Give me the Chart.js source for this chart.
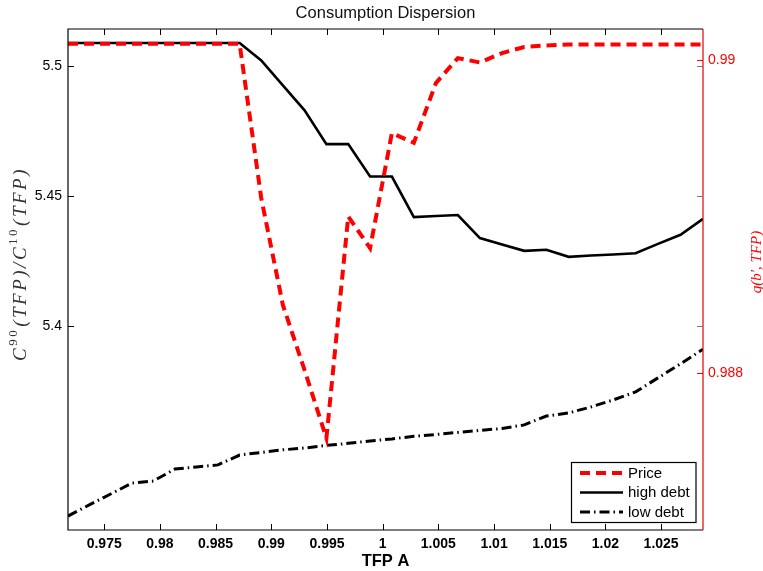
<!DOCTYPE html>
<html>
<head>
<meta charset="utf-8">
<title>Consumption Dispersion</title>
<script src="https://cdn.jsdelivr.net/npm/chart.js@4"></script>
<style>
  html, body { margin: 0; padding: 0; background: #fff; }
  #wrap { width: 763px; height: 571px; }
</style>
</head>
<body>
<div id="wrap"><canvas id="dispChart" width="763" height="571"></canvas></div>
<script>
// TFP grid (x) and the three series
const tfp = [0.97175, 0.97366, 0.97558, 0.97750, 0.97942, 0.98135, 0.98328, 0.98522, 0.98716, 0.98910,
             0.99104, 0.99299, 0.99495, 0.99691, 0.99887, 1.00083, 1.00280, 1.00478, 1.00675, 1.00873,
             1.01072, 1.01271, 1.01470, 1.01670, 1.01870, 1.02070, 1.02271, 1.02472, 1.02674, 1.02876];

const price = [0.990106, 0.990106, 0.990106, 0.990106, 0.990106, 0.990106, 0.990106, 0.990106, 0.990106,
               0.989119, 0.988436, 0.988018, 0.987583, 0.989002, 0.988799, 0.989535, 0.989473, 0.989855,
               0.990015, 0.989987, 0.990047, 0.990086, 0.990096, 0.990102, 0.990102, 0.990102, 0.990102,
               0.990102, 0.990102, 0.990102];

const highDebt = [5.5090, 5.5090, 5.5090, 5.5090, 5.5090, 5.5090, 5.5090, 5.5090, 5.5090,
                  5.5023, 5.4927, 5.4831, 5.4701, 5.4701, 5.4576, 5.4576, 5.4420, 5.4424, 5.4428,
                  5.4339, 5.4314, 5.4290, 5.4294, 5.4267, 5.4272, 5.4276, 5.4281, 5.4317, 5.4352, 5.4413];

const lowDebt = [5.3269, 5.3312, 5.3354, 5.3396, 5.3404, 5.3450, 5.3458, 5.3466, 5.3504, 5.3514,
                 5.3524, 5.3531, 5.3541, 5.3549, 5.3558, 5.3566, 5.3576, 5.3583, 5.3591, 5.3599,
                 5.3606, 5.3620, 5.3654, 5.3666, 5.3689, 5.3716, 5.3747, 5.3801, 5.3855, 5.3911];

const xTicks = [0.975, 0.98, 0.985, 0.99, 0.995, 1, 1.005, 1.01, 1.015, 1.02, 1.025];
const leftTicks = [5.4, 5.45, 5.5];
const rightTicks = [0.988, 0.99];

const FONT = '"Liberation Sans", Arial, Helvetica, sans-serif';
const SERIF = '"Liberation Serif", "Times New Roman", serif';

function pts(ys) {
    return tfp.map((x, i) => ({ x: x, y: ys[i] }));
}

function fmt(v) {
    return String(parseFloat(Number(v).toFixed(4)));
}

// draws title, box, inward ticks, axis titles and the legend (MATLAB look)
const matlabFrame = {
    id: 'matlabFrame',
    afterDraw(chart) {
        const ctx = chart.ctx;
        const ca = chart.chartArea;
        const sx = chart.scales.x, sl = chart.scales.yL, sr = chart.scales.yR;
        const tl = 6;

        ctx.save();
        // title
        ctx.fillStyle = '#111';
        ctx.font = '16.5px ' + FONT;
        ctx.textAlign = 'center';
        ctx.textBaseline = 'middle';
        ctx.fillText('Consumption Dispersion', (ca.left + ca.right) / 2, 13);

        // x title
        ctx.font = 'bold 16.5px ' + FONT;
        ctx.fillStyle = '#000';
        ctx.fillText('TFP A', (ca.left + ca.right) / 2, 561);

        // box
        ctx.lineWidth = 1.2;
        ctx.strokeStyle = '#000';
        ctx.beginPath();
        ctx.moveTo(ca.right, ca.top);
        ctx.lineTo(ca.left, ca.top);
        ctx.lineTo(ca.left, ca.bottom);
        ctx.lineTo(ca.right, ca.bottom);
        ctx.stroke();
        ctx.strokeStyle = '#e00000';
        ctx.beginPath();
        ctx.moveTo(ca.right, ca.top);
        ctx.lineTo(ca.right, ca.bottom);
        ctx.stroke();

        // x ticks, bottom and top
        ctx.lineWidth = 1;
        ctx.strokeStyle = '#000';
        ctx.beginPath();
        xTicks.forEach(v => {
            const px = Math.round(sx.getPixelForValue(v)) + 0.5;
            ctx.moveTo(px, ca.bottom); ctx.lineTo(px, ca.bottom - tl);
            ctx.moveTo(px, ca.top); ctx.lineTo(px, ca.top + tl);
        });
        leftTicks.forEach(v => {
            const py = Math.round(sl.getPixelForValue(v)) + 0.5;
            ctx.moveTo(ca.left, py); ctx.lineTo(ca.left + tl, py);
        });
        ctx.stroke();
        ctx.strokeStyle = '#777';
        ctx.beginPath();
        leftTicks.forEach(v => {
            const py = Math.round(sl.getPixelForValue(v)) + 0.5;
            ctx.moveTo(ca.right, py); ctx.lineTo(ca.right - tl, py);
        });
        ctx.stroke();
        ctx.strokeStyle = '#ff0000';
        ctx.beginPath();
        rightTicks.forEach(v => {
            const py = Math.round(sr.getPixelForValue(v)) + 0.5;
            ctx.moveTo(ca.right, py); ctx.lineTo(ca.right - tl, py);
        });
        ctx.stroke();

        // left y title: C^90(TFP)/C^10(TFP)
        const parts = [
            { t: 'C', sup: false }, { t: '90', sup: true }, { t: '(TFP)/C', sup: false },
            { t: '10', sup: true }, { t: '(TFP)', sup: false }
        ];
        ctx.save();
        ctx.translate(21, 264);
        ctx.rotate(-Math.PI / 2);
        ctx.fillStyle = '#333';
        ctx.textBaseline = 'middle';
        ctx.textAlign = 'left';
        ctx.letterSpacing = '2.5px';
        let total = 0;
        parts.forEach(p => {
            ctx.font = p.sup ? '13px ' + SERIF : 'italic 19px ' + SERIF;
            p.w = ctx.measureText(p.t).width + (p.sup ? 1 : 0);
            total += p.w;
        });
        let x0 = -total / 2;
        parts.forEach(p => {
            ctx.font = p.sup ? '13px ' + SERIF : 'italic 19px ' + SERIF;
            ctx.fillText(p.t, x0, p.sup ? -7 : 0);
            x0 += p.w;
        });
        ctx.letterSpacing = '0px';
        ctx.restore();

        // right y title
        ctx.save();
        ctx.translate(757, 262);
        ctx.rotate(-Math.PI / 2);
        ctx.fillStyle = '#ff0000';
        ctx.font = 'italic 15px ' + SERIF;
        ctx.textAlign = 'center';
        ctx.textBaseline = 'middle';
        ctx.fillText('q(b\u2032, TFP)', 0, 0);
        ctx.restore();

        // legend
        const lx = 571.5, ly = 462.5, lw = 124.5, lh = 60;
        ctx.fillStyle = '#fff';
        ctx.fillRect(lx, ly, lw, lh);
        ctx.lineWidth = 1.2;
        ctx.strokeStyle = '#000';
        ctx.setLineDash([]);
        ctx.strokeRect(lx, ly, lw, lh);
        const rows = [473, 492.5, 512];
        chart.data.datasets.forEach((ds, i) => {
            const y = rows[i];
            ctx.strokeStyle = ds.borderColor;
            ctx.lineWidth = ds.borderWidth;
            ctx.setLineDash(ds.borderDash || []);
            ctx.beginPath();
            ctx.moveTo(580, y);
            ctx.lineTo(623, y);
            ctx.stroke();
            ctx.setLineDash([]);
            ctx.fillStyle = '#000';
            ctx.font = '15px ' + FONT;
            ctx.textAlign = 'left';
            ctx.textBaseline = 'middle';
            ctx.fillText(ds.label, 628, y + 0.5);
        });
        ctx.restore();
    }
};

function createDispersionChart() {
    const ctx = document.getElementById('dispChart').getContext('2d');

    new Chart(ctx, {
        type: 'line',
        data: {
            datasets: [
                { label: 'Price', data: pts(price), yAxisID: 'yR', borderColor: '#ff0000',
                  borderWidth: 4, borderDash: [10, 6] },
                { label: 'high debt', data: pts(highDebt), yAxisID: 'yL', borderColor: '#000',
                  borderWidth: 2.6 },
                { label: 'low debt', data: pts(lowDebt), yAxisID: 'yL', borderColor: '#000',
                  borderWidth: 3, borderDash: [10, 4, 1.5, 4] }
            ]
        },
        options: {
            responsive: false,
            animation: false,
            devicePixelRatio: 1,
            layout: { padding: { top: 29, left: 0, right: 0, bottom: 0 } },
            elements: { point: { radius: 0 }, line: { tension: 0, fill: false } },
            plugins: {
                legend: { display: false },
                title: { display: false },
                tooltip: { enabled: false }
            },
            scales: {
                x: {
                    type: 'linear', min: tfp[0], max: tfp[tfp.length - 1],
                    grid: { display: false, drawTicks: false }, border: { display: false },
                    afterBuildTicks: s => { s.ticks = xTicks.map(v => ({ value: v })); },
                    afterFit: s => { s.height = 41; },
                    ticks: { font: { family: FONT, size: 14, weight: 'bold' }, color: '#000',
                             padding: 6, maxRotation: 0, autoSkip: false, callback: v => fmt(v) }
                },
                yL: {
                    type: 'linear', position: 'left', min: 5.32153, max: 5.51441,
                    grid: { display: false, drawTicks: false }, border: { display: false },
                    afterBuildTicks: s => { s.ticks = leftTicks.map(v => ({ value: v })); },
                    afterFit: s => { s.width = 68; },
                    ticks: { font: { family: FONT, size: 14 }, color: '#000', padding: 6,
                             autoSkip: false, callback: v => fmt(v) }
                },
                yR: {
                    type: 'linear', position: 'right', min: 0.986996, max: 0.990201,
                    grid: { display: false, drawTicks: false }, border: { display: false },
                    afterBuildTicks: s => { s.ticks = rightTicks.map(v => ({ value: v })); },
                    afterFit: s => { s.width = 60; },
                    ticks: { font: { family: FONT, size: 14 }, color: '#ff0000', padding: 5,
                             autoSkip: false, callback: v => fmt(v) }
                }
            }
        },
        plugins: [matlabFrame]
    });
}

window.addEventListener('DOMContentLoaded', createDispersionChart);
</script>
</body>
</html>
